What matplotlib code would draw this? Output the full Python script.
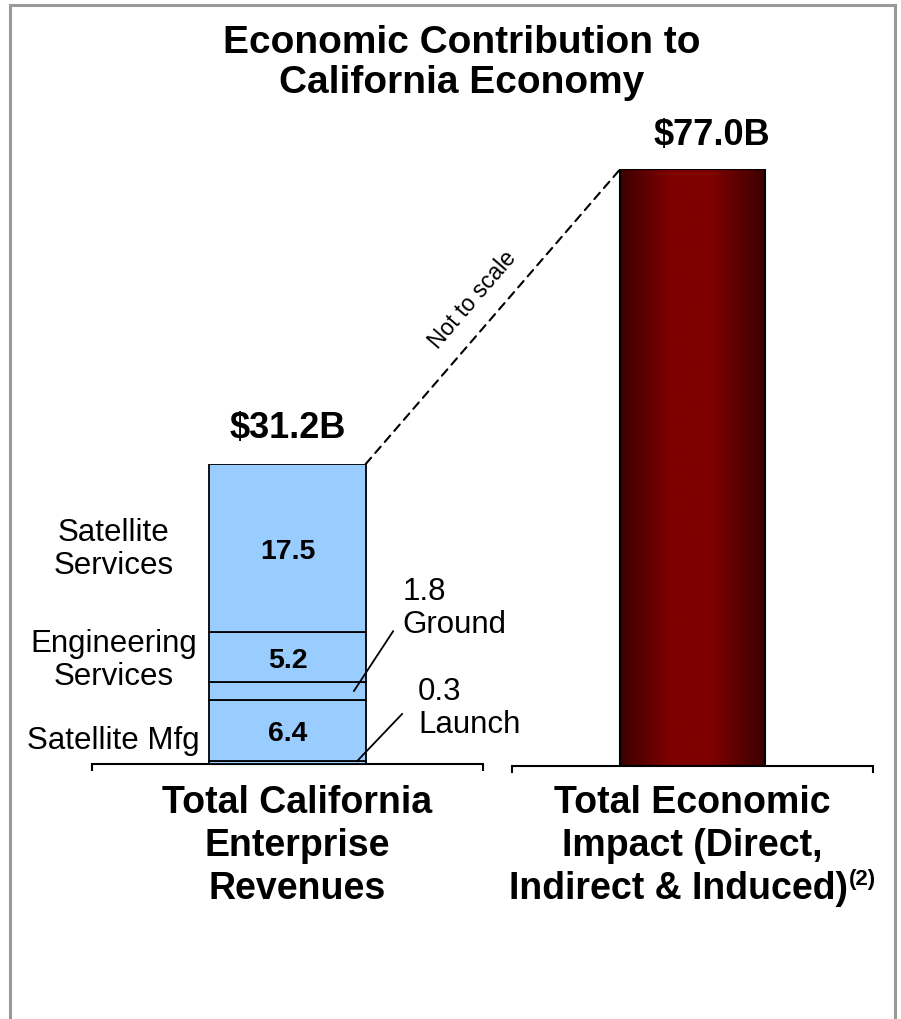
import numpy as np
import matplotlib.pyplot as plt
from matplotlib.patches import Rectangle, ConnectionPatch
from matplotlib.colors import LinearSegmentedColormap

plt.rcParams["font.family"] = ["Liberation Sans", "DejaVu Sans"]

# data (US$ billions)
segments = ["Launch", "Satellite Mfg", "Ground", "Engineering\nServices", "Satellite\nServices"]
segment_values = [0.3, 6.4, 1.8, 5.2, 17.5]
total_revenue = 31.2
total_impact = 77.0
categories = [
    ["Total California", "Enterprise", "Revenues"],
    ["Total Economic", "Impact (Direct,", "Indirect & Induced)"],
]
footnotes = ["", "(2)"]
title = "Economic Contribution to\nCalifornia Economy"

fig = plt.figure(figsize=(9.01, 10.2), dpi=100)
W, H = 901.0, 1020.0

# two separate axes: the bars are deliberately not on the same scale
ax1 = fig.add_axes([92 / W, (H - 765) / H, 391 / W, 300 / H])
ax2 = fig.add_axes([512 / W, (H - 767) / H, 361 / W, 597 / H])

for ax in (ax1, ax2):
    for side in ("left", "right", "top"):
        ax.spines[side].set_visible(False)
    ax.spines["bottom"].set_linewidth(1.5)
    ax.set_xticks([0, 1])
    ax.set_xticklabels([])
    ax.set_yticks([])
    ax.tick_params(axis="x", direction="out", length=5, width=1.5)
    ax.patch.set_visible(False)

# stacked revenue bar
bar_x, bar_w = 0.5, 0.4
bottoms = np.concatenate([[0], np.cumsum(segment_values)[:-1]])
for name, val, bot in zip(segments, segment_values, bottoms):
    ax1.bar(bar_x, val, bar_w, bottom=bot, color="#99ccff", edgecolor="black",
            linewidth=1.3, zorder=3)
ax1.set_xlim(0, 1)
ax1.set_ylim(0, total_revenue)

mids = bottoms + np.array(segment_values) / 2
side_fs = 22.5
label_style = dict(fontsize=side_fs, ha="center", va="center", linespacing=1.12, clip_on=False)
# values inside the bar for the big segments, names to the left
for i, dy in ((1, -1.0), (3, -0.2), (4, 0.0)):
    ax1.text(bar_x, mids[i] - 0.3, f"{segment_values[i]:.1f}", fontweight="bold",
             fontsize=20.5, ha="center", va="center", zorder=4)
    ax1.text(0.055, mids[i] + dy, segments[i], **label_style)

# small segments labelled to the right with leader lines
ax1.plot([0.67, 0.77], [mids[2], 13.8], color="black", lw=1.3, clip_on=False, zorder=5)
ax1.text(0.795, 16.3, f"{segment_values[2]:.1f}\n{segments[2]}", fontsize=side_fs,
         ha="left", va="center", linespacing=1.12, clip_on=False)
ax1.plot([0.678, 0.793], [0.3, 5.2], color="black", lw=1.3, clip_on=False, zorder=5)
ax1.text(0.834, 5.9, f"{segment_values[0]:.1f}\n{segments[0]}", fontsize=side_fs,
         ha="left", va="center", linespacing=1.12, clip_on=False)

ax1.annotate(f"\\${total_revenue:.1f}B", xy=(bar_x, total_revenue), xytext=(0, 36),
             textcoords="offset pixels", ha="center", va="center",
             fontsize=26, fontweight="bold", annotation_clip=False)

# total economic impact bar with dark red gradient
imp = ax2.bar(0.5, total_impact, 0.4, facecolor="none", edgecolor="black",
              linewidth=1.5, zorder=3)[0]
grad_cmap = LinearSegmentedColormap.from_list(
    "redbar", [(0, "#3c0000"), (0.35, "#800000"), (0.62, "#800000"), (1, "#3c0000")])
grad = np.linspace(0, 1, 256).reshape(1, -1)
im = ax2.imshow(grad, cmap=grad_cmap, aspect="auto", zorder=2,
                extent=[imp.get_x(), imp.get_x() + imp.get_width(), 0, total_impact])
im.set_clip_path(imp)
ax2.set_xlim(0, 1)
ax2.set_ylim(0, total_impact)

ax2.annotate(f"\\${total_impact:.1f}B", xy=(0.5, total_impact), xytext=(19, 34),
             textcoords="offset pixels", ha="center", va="center",
             fontsize=26, fontweight="bold", annotation_clip=False)

# category labels under each axis, one line at a time
fig.canvas.draw()
rend = fig.canvas.get_renderer()
cat_fs = 27
to_fig = fig.transFigure.inverted()
for ax, lines, note, dx in zip((ax1, ax2), categories, footnotes, (10, 0)):
    cx = ax.transAxes.transform((0.5, 0))[0] + dx
    for k, line in enumerate(lines):
        base_y = H - (813 + 43 * k)
        t = fig.text(0, 0, line, fontsize=cat_fs, fontweight="bold", ha="left", va="baseline")
        w = t.get_window_extent(rend).width
        w_note = 0
        if note and k == len(lines) - 1:
            s = fig.text(0, 0, note, fontsize=16, fontweight="bold", ha="left", va="top")
            w_note = s.get_window_extent(rend).width + 1
            s.set_position(to_fig.transform((cx - (w + w_note) / 2 + w + 1, base_y + 30)))
        t.set_position(to_fig.transform((cx - (w + w_note) / 2, base_y)))

# dashed "not to scale" connector
p_a = (bar_x + bar_w / 2, total_revenue)
p_b = (imp.get_x(), total_impact)
con = ConnectionPatch(xyA=p_a, coordsA=ax1.transData, xyB=p_b, coordsB=ax2.transData,
                      linestyle=(0, (4, 3)), linewidth=1.5, color="black")
fig.add_artist(con)
da = ax1.transData.transform(p_a)
db = ax2.transData.transform(p_b)
ang = np.degrees(np.arctan2(db[1] - da[1], db[0] - da[0]))
mid = (da + db) / 2
nrm = np.array([-np.sin(np.radians(ang)), np.cos(np.radians(ang))])
txt_pos = to_fig.transform(mid + 27 * nrm)
fig.text(txt_pos[0], txt_pos[1], "Not to scale", rotation=ang, rotation_mode="anchor",
         ha="center", va="center", fontsize=16.5)

fig.text(462 / W, 1 - 63 / H, title, ha="center", va="center", fontsize=28,
         fontweight="bold", linespacing=1.15)

# grey frame around the slide panel
fig.add_artist(Rectangle((10 / W, -0.02), 885 / W, 1.02 - 5.5 / H, transform=fig.transFigure,
                         facecolor="none", edgecolor="#999999", linewidth=2.2, clip_on=False))

fig.savefig("out.png", dpi=100)
